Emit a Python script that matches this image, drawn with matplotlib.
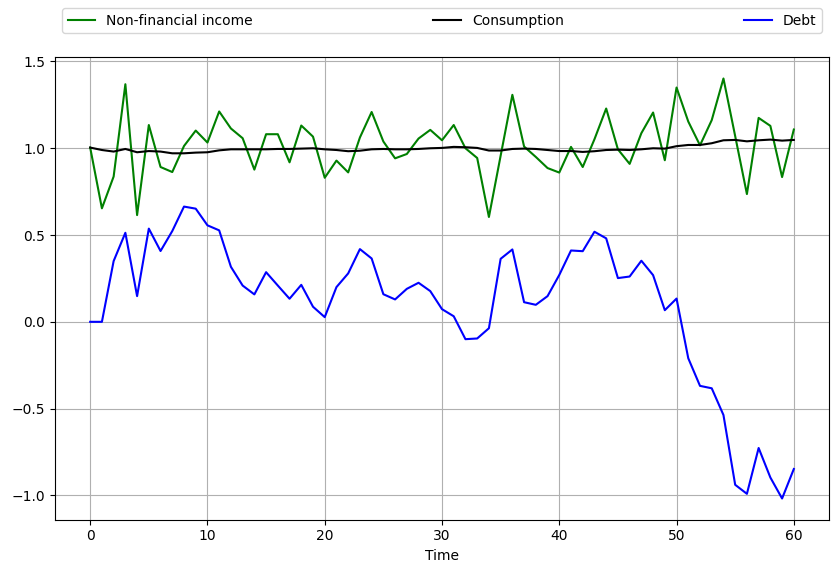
import matplotlib
matplotlib.use('Agg')
from matplotlib import pyplot as plt

# values, t = 0..60
income = [1.004, 0.654, 0.837, 1.369, 0.615, 1.134, 0.892, 0.863, 1.013, 1.102,
          1.033, 1.212, 1.114, 1.058, 0.877, 1.081, 1.081, 0.919, 1.131, 1.067,
          0.830, 0.929, 0.861, 1.062, 1.209, 1.039, 0.942, 0.967, 1.056, 1.106,
          1.046, 1.134, 1.000, 0.944, 0.604, 0.957, 1.308, 1.010, 0.950, 0.886,
          0.860, 1.008, 0.892, 1.052, 1.229, 0.994, 0.910, 1.087, 1.206, 0.931,
          1.350, 1.154, 1.017, 1.162, 1.402, 1.070, 0.736, 1.175, 1.129, 0.834,
          1.108]
consumption = [1.004, 0.990, 0.981, 0.996, 0.977, 0.984, 0.981, 0.971, 0.971, 0.975,
               0.977, 0.988, 0.994, 0.994, 0.994, 0.994, 0.996, 0.996, 0.998, 1.000,
               0.994, 0.990, 0.983, 0.986, 0.994, 0.996, 0.994, 0.994, 0.996, 1.000,
               1.002, 1.008, 1.006, 1.002, 0.987, 0.987, 0.996, 0.998, 0.996, 0.990,
               0.984, 0.984, 0.979, 0.983, 0.990, 0.992, 0.990, 0.994, 1.000, 0.998,
               1.012, 1.019, 1.019, 1.029, 1.046, 1.048, 1.040, 1.046, 1.050, 1.044,
               1.048]
debt = [0.000, 0.000, 0.350, 0.513, 0.148, 0.537, 0.408, 0.523, 0.664, 0.652,
        0.556, 0.527, 0.317, 0.209, 0.158, 0.286, 0.209, 0.133, 0.213, 0.087,
        0.027, 0.200, 0.279, 0.419, 0.365, 0.159, 0.129, 0.190, 0.225, 0.177,
        0.073, 0.032, -0.100, -0.096, -0.037, 0.363, 0.417, 0.113, 0.098, 0.148,
        0.270, 0.411, 0.407, 0.519, 0.481, 0.252, 0.261, 0.352, 0.269, 0.067,
        0.134, -0.210, -0.369, -0.383, -0.537, -0.939, -0.991, -0.727, -0.897, -1.018,
        -0.848]
t = list(range(len(income)))

fig = plt.figure(figsize=(8.38, 5.74), dpi=100)
ax = fig.add_axes([55/838, 54.5/574, 774/838, 462/574])

ax.plot(t, income, 'g-', label="Non-financial income")
ax.plot(t, consumption, 'k-', label="Consumption")
ax.plot(t, debt, 'b-', label="Debt")
ax.legend(ncol=3, mode='expand', loc='upper left', bbox_to_anchor=(0., 1.02, 1., .102))
ax.grid()
ax.set_xlabel('Time')

fig.savefig('out.png', dpi=100)
